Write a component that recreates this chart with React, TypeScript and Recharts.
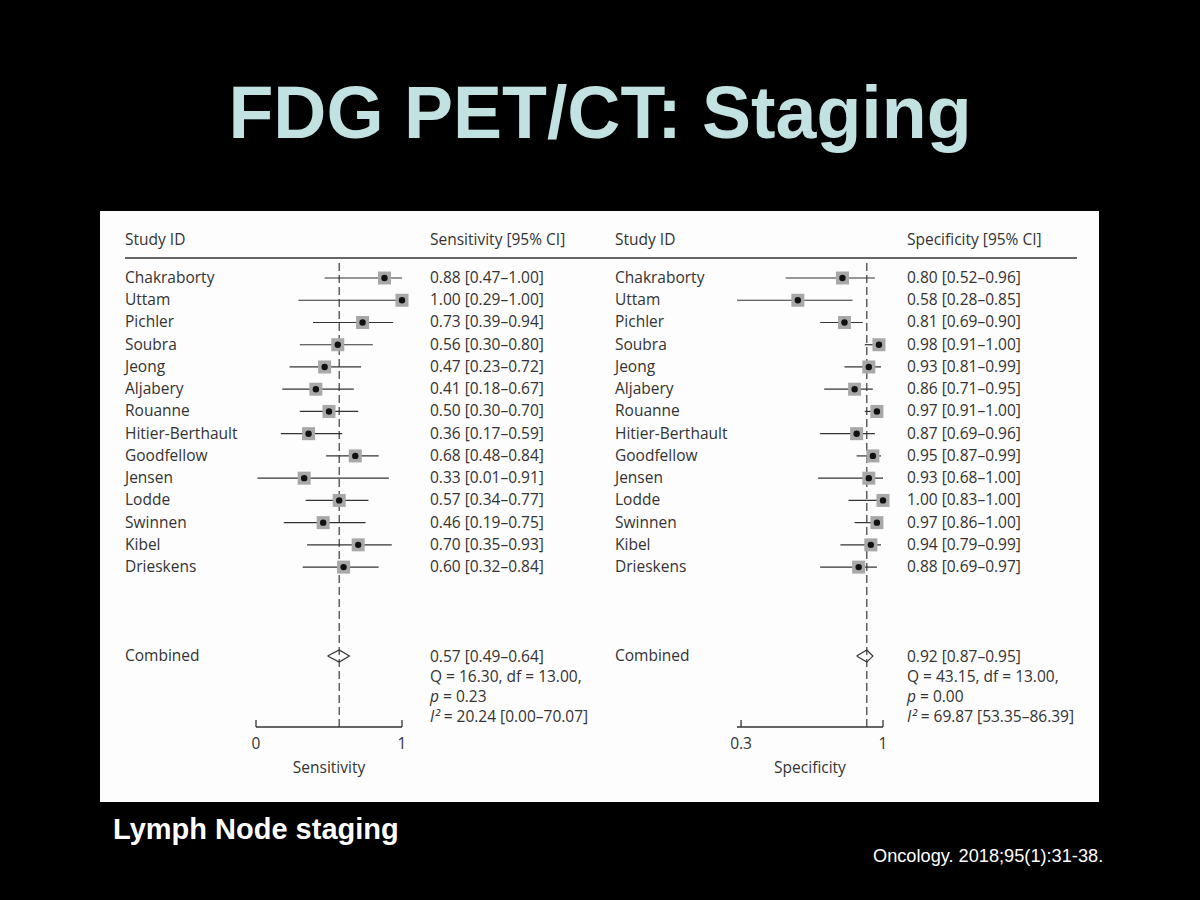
import React from "react"
import { ScatterChart, Scatter, XAxis, YAxis, ErrorBar, ReferenceLine } from "recharts"

const studies = [
  "Chakraborty", "Uttam", "Pichler", "Soubra", "Jeong", "Aljabery", "Rouanne",
  "Hitier-Berthault", "Goodfellow", "Jensen", "Lodde", "Swinnen", "Kibel", "Drieskens",
]
const sensEst = [0.88, 1.0, 0.73, 0.56, 0.47, 0.41, 0.5, 0.36, 0.68, 0.33, 0.57, 0.46, 0.7, 0.6]
const sensLow = [0.47, 0.29, 0.39, 0.3, 0.23, 0.18, 0.3, 0.17, 0.48, 0.01, 0.34, 0.19, 0.35, 0.32]
const sensHigh = [1.0, 1.0, 0.94, 0.8, 0.72, 0.67, 0.7, 0.59, 0.84, 0.91, 0.77, 0.75, 0.93, 0.84]
const specEst = [0.8, 0.58, 0.81, 0.98, 0.93, 0.86, 0.97, 0.87, 0.95, 0.93, 1.0, 0.97, 0.94, 0.88]
const specLow = [0.52, 0.28, 0.69, 0.91, 0.81, 0.71, 0.91, 0.69, 0.87, 0.68, 0.83, 0.86, 0.79, 0.69]
const specHigh = [0.96, 0.85, 0.9, 1.0, 0.99, 0.95, 1.0, 0.96, 0.99, 1.0, 1.0, 1.0, 0.99, 0.97]
// pooled estimate, low, high
const sensPooled = [0.57, 0.49, 0.64]
const specPooled = [0.92, 0.87, 0.95]
const sensStats = ["16.30", "13.00", "0.23", "20.24 [0.00–70.07]"]
const specStats = ["43.15", "13.00", "0.00", "69.87 [53.35–86.39]"]
const sensTicks = [0, 1]
const specTicks = [0.3, 1]

const COMBINED_ROW = 17
const FONT = "'Open Sans', sans-serif"
const INK = "#333"
const ROW_TOP = 278
const ROW_STEP = 22.23

const fmt = (v: number) => v.toFixed(2)

const rows = (est: number[], lo: number[], hi: number[]) =>
  est.map((e, i) => ({ x: e, y: i, err: [e - lo[i], hi[i] - e] }))

const diamond = (p: number[]) => [
  { x: p[1], y: COMBINED_ROW },
  { x: p[0], y: COMBINED_ROW - 0.27 },
  { x: p[2], y: COMBINED_ROW },
  { x: p[0], y: COMBINED_ROW + 0.27 },
  { x: p[1], y: COMBINED_ROW },
]

const StudyMarker = (props: any) => {
  const { cx, cy } = props
  return (
    <g>
      <rect x={cx - 6.5} y={cy - 6.5} width={13} height={13} fill="#a8a8a8" />
      <circle cx={cx} cy={cy} r={3.2} fill="#111" />
    </g>
  )
}

const AxisTick = (props: any) => {
  const { x, y, payload } = props
  return (
    <g>
      <line x1={x} x2={x} y1={y} y2={y - 7} stroke={INK} strokeWidth={1.3} />
      <text x={x} y={y + 22} textAnchor="middle" fontSize={15.5} fontFamily={FONT} fill={INK}>
        {payload.value}
      </text>
    </g>
  )
}

function Forest(props: { est: number[]; lo: number[]; hi: number[]; pooled: number[]; domain: number[]; ticks: number[]; label: string }) {
  const { est, lo, hi, pooled, domain, ticks, label } = props
  return (
    <ScatterChart width={180} height={527} margin={{ top: 12, right: 18, bottom: 0, left: 16 }}>
      <XAxis
        type="number"
        dataKey="x"
        domain={domain}
        ticks={ticks}
        height={50}
        tickSize={0}
        tickMargin={0}
        tickLine={false}
        tick={<AxisTick />}
        axisLine={{ stroke: INK, strokeWidth: 1.3 }}
        label={{ value: label, position: "insideBottom", offset: 4, fontSize: 15.5, fontFamily: FONT, fill: INK }}
      />
      <YAxis type="number" dataKey="y" domain={[-0.72, 20.19]} reversed hide />
      <ReferenceLine x={pooled[0]} stroke="#555" strokeWidth={1.4} strokeDasharray="8 4" />
      <Scatter data={rows(est, lo, hi)} shape={<StudyMarker />} isAnimationActive={false}>
        <ErrorBar dataKey="err" direction="x" width={0} stroke={INK} strokeWidth={1.2} />
      </Scatter>
      <Scatter
        data={diamond(pooled)}
        line={{ stroke: INK, strokeWidth: 1.2 }}
        lineType="joint"
        shape={() => <g />}
        isAnimationActive={false}
      />
    </ScatterChart>
  )
}

function Column(props: { x: number; valX: number; title: string; est: number[]; lo: number[]; hi: number[]; pooled: number[]; stats: string[] }) {
  const { x, valX, title, est, lo, hi, pooled, stats } = props
  const t = { fontSize: 15.5, fontFamily: FONT, fill: INK }
  return (
    <g>
      <text x={x} y={245} {...t}>Study ID</text>
      <text x={valX} y={245} {...t}>{title}</text>
      {studies.map((s, i) => (
        <g key={s}>
          <text x={x} y={ROW_TOP + ROW_STEP * i + 5} {...t}>{s}</text>
          <text x={valX} y={ROW_TOP + ROW_STEP * i + 5} {...t}>
            {`${fmt(est[i])} [${fmt(lo[i])}–${fmt(hi[i])}]`}
          </text>
        </g>
      ))}
      <text x={x} y={661} {...t}>Combined</text>
      <text x={valX} y={662} {...t}>{`${fmt(pooled[0])} [${fmt(pooled[1])}–${fmt(pooled[2])}]`}</text>
      <text x={valX} y={682} {...t}>{`Q = ${stats[0]}, df = ${stats[1]},`}</text>
      <text x={valX} y={702} {...t}>
        <tspan fontStyle="italic">p</tspan>{` = ${stats[2]}`}
      </text>
      <text x={valX} y={722} {...t}>
        <tspan fontStyle="italic">I²</tspan>{` = ${stats[3]}`}
      </text>
    </g>
  )
}

export default function App() {
  return (
    <div style={{ position: "absolute", left: 0, top: 0, width: 1200, height: 900, background: "#000" }}>
      <svg width={1200} height={900} style={{ position: "absolute", left: 0, top: 0 }}>
        <text x={600} y={138} textAnchor="middle" fontSize={73.5} fontWeight="bold" fontFamily="'Liberation Sans', Arial, sans-serif" fill="#c2e2e2">
          FDG PET/CT: Staging
        </text>
        <rect x={100} y={211} width={999} height={591} fill="#fdfdfd" />
        <line x1={125} x2={1077} y1={258} y2={258} stroke={INK} strokeWidth={1.5} />
        <Column x={125} valX={430} title="Sensitivity [95% CI]" est={sensEst} lo={sensLow} hi={sensHigh} pooled={sensPooled} stats={sensStats} />
        <Column x={615} valX={907} title="Specificity [95% CI]" est={specEst} lo={specLow} hi={specHigh} pooled={specPooled} stats={specStats} />
        <text x={113} y={839} fontSize={29} fontWeight="bold" fontFamily="'Liberation Sans', Arial, sans-serif" fill="#fff">
          Lymph Node staging
        </text>
        <text x={873} y={862} fontSize={18.2} fontFamily="'Liberation Sans', Arial, sans-serif" fill="#fff">
          Oncology. 2018;95(1):31-38.
        </text>
      </svg>
      <div style={{ position: "absolute", left: 240, top: 250 }}>
        <Forest est={sensEst} lo={sensLow} hi={sensHigh} pooled={sensPooled} domain={[0, 1]} ticks={sensTicks} label="Sensitivity" />
      </div>
      <div style={{ position: "absolute", left: 721, top: 250 }}>
        <Forest est={specEst} lo={specLow} hi={specHigh} pooled={specPooled} domain={[0.3, 1]} ticks={specTicks} label="Specificity" />
      </div>
    </div>
  )
}
